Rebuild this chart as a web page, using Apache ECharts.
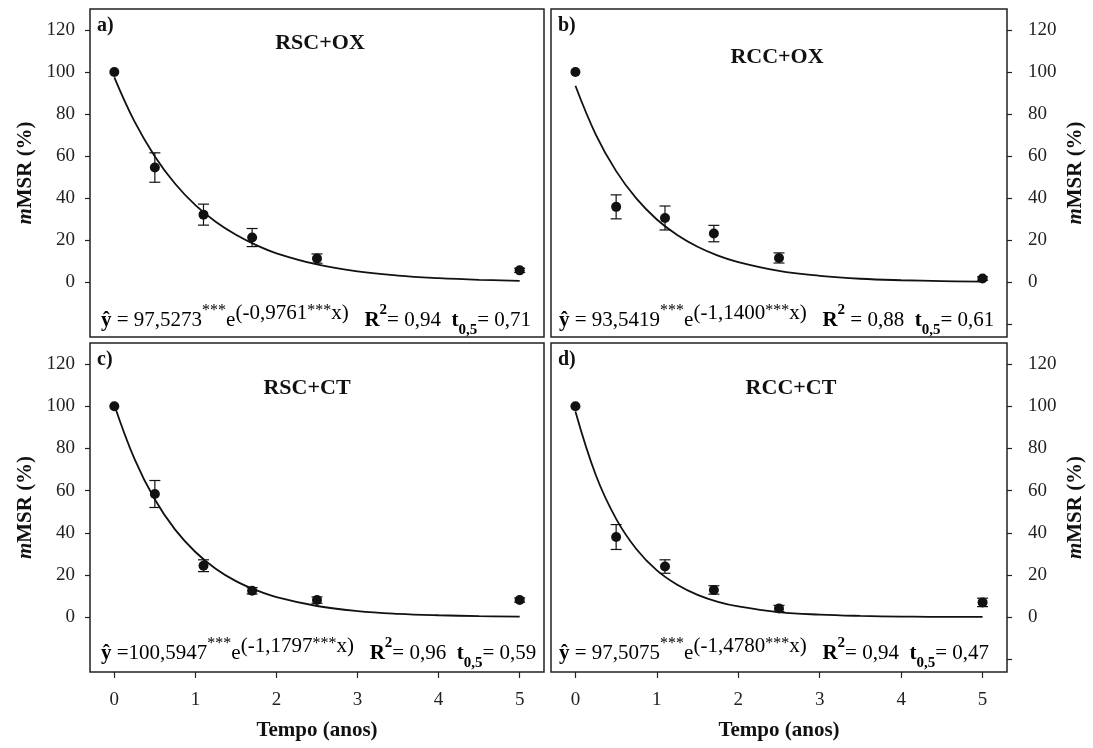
<!DOCTYPE html>
<html>
<head>
<meta charset="utf-8">
<title>mMSR</title>
<script src="https://cdn.jsdelivr.net/npm/echarts@6/dist/echarts.min.js"></script>
<style>
  html, body { margin: 0; padding: 0; background: #fff; }
  #chart { width: 1093px; height: 748px; }
</style>
</head>
<body>
<div id="chart"></div>
<script>
// tempo de coleta (anos)
const tempo = [0, 0.5, 1.1, 1.7, 2.5, 5];

// médias e erros
const mediaA = [100, 54.6, 32.2, 21.3, 11.3, 5.7];
const erroA = [0, 7.0, 5.0, 4.3, 2.2, 1.0];
const mediaB = [100, 35.9, 30.6, 23.2, 11.6, 1.8];
const erroB = [0, 5.7, 5.7, 3.9, 2.4, 0.8];
const mediaC = [100, 58.4, 24.4, 12.5, 8.1, 8.1];
const erroC = [0, 6.4, 2.8, 1.5, 1.5, 1.0];
const mediaD = [100, 38.0, 24.0, 12.9, 4.1, 7.0];
const erroD = [0, 5.9, 3.2, 2.0, 1.5, 2.0];

// curva ajustada
const tempoCurva = [0, 0.25, 0.5, 0.75, 1, 1.25, 1.5, 1.75, 2, 2.5, 3, 3.5, 4, 4.5, 5];
const curvaA = [97.5, 76.4, 59.9, 46.9, 36.7, 28.8, 22.6, 17.7, 13.8, 8.5, 5.2, 3.2, 2.0, 1.2, 0.7];
const curvaB = [93.5, 70.3, 52.9, 39.8, 29.9, 22.5, 16.9, 12.7, 9.6, 5.4, 3.1, 1.7, 1.0, 0.6, 0.3];
const curvaC = [100.6, 74.9, 55.8, 41.5, 30.9, 23.0, 17.1, 12.8, 9.5, 5.3, 2.9, 1.6, 0.9, 0.5, 0.3];
const curvaD = [97.5, 67.4, 46.6, 32.2, 22.2, 15.4, 10.6, 7.3, 5.1, 2.4, 1.2, 0.6, 0.3, 0.1, 0.1];

// rótulos dos eixos
const ticksX = [0, 1, 2, 3, 4, 5];
const ticksY = [0, 20, 40, 60, 80, 100, 120];
const ticksYDir = [-20, 0, 20, 40, 60, 80, 100, 120];

const fonte = "'Liberation Serif', 'Times New Roman', serif";
const preto = '#111';

const paineis = [
  { letra: 'a)', titulo: 'RSC+OX', media: mediaA, erro: erroA, curva: curvaA,
    eq: ['ŷ', ' = 97,5273', '-0,9761', '= 0,94  ', '= 0,71'] },
  { letra: 'b)', titulo: 'RCC+OX', media: mediaB, erro: erroB, curva: curvaB,
    eq: ['ŷ', ' = 93,5419', '-1,1400', ' = 0,88  ', '= 0,61'] },
  { letra: 'c)', titulo: 'RSC+CT', media: mediaC, erro: erroC, curva: curvaC,
    eq: ['ŷ', ' =100,5947', '-1,1797', '= 0,96  ', '= 0,59'] },
  { letra: 'd)', titulo: 'RCC+CT', media: mediaD, erro: erroD, curva: curvaD,
    eq: ['ŷ', ' = 97,5075', '-1,4780', '= 0,94  ', '= 0,47'] }
];

// posição de cada quadro (px)
const grades = [
  { left: 90, top: 9, width: 454, height: 328 },
  { left: 551, top: 9, width: 456, height: 328 },
  { left: 90, top: 343, width: 454, height: 329 },
  { left: 551, top: 343, width: 456, height: 329 }
];
const posTitulo = [[320, 43], [777, 57], [307, 388], [791, 388]];
const posEq = [[101, 303], [559, 303], [101, 636], [559, 636]];

function barrasErro(params, api) {
  const x = api.value(0), y = api.value(1), e = api.value(2);
  if (!e) return null;
  const a = api.coord([x, y + e]);
  const b = api.coord([x, y - e]);
  const w = 5.5;
  const st = { stroke: preto, lineWidth: 1.2 };
  return {
    type: 'group',
    children: [
      { type: 'line', shape: { x1: a[0], y1: a[1], x2: b[0], y2: b[1] }, style: st },
      { type: 'line', shape: { x1: a[0] - w, y1: a[1], x2: a[0] + w, y2: a[1] }, style: st },
      { type: 'line', shape: { x1: b[0] - w, y1: b[1], x2: b[0] + w, y2: b[1] }, style: st }
    ]
  };
}

const richEq = {
  n: { fontFamily: fonte, fontSize: 21, lineHeight: 35, verticalAlign: 'middle', color: preto },
  b: { fontFamily: fonte, fontSize: 21, lineHeight: 35, verticalAlign: 'middle', fontWeight: 'bold', color: preto },
  s: { fontFamily: fonte, fontSize: 16, lineHeight: 21, verticalAlign: 'top', color: preto },
  e: { fontFamily: fonte, fontSize: 21, lineHeight: 28, verticalAlign: 'top', color: preto },
  bs: { fontFamily: fonte, fontSize: 15, lineHeight: 25, verticalAlign: 'top', fontWeight: 'bold', color: preto },
  bi: { fontFamily: fonte, fontSize: 15, lineHeight: 17, verticalAlign: 'bottom', fontWeight: 'bold', color: preto }
};

const grid = [], xAxis = [], yAxis = [], series = [], graphic = [];

paineis.forEach(function (p, i) {
  const direita = i % 2 === 1;
  const baixo = i >= 2;
  grid.push(Object.assign({ show: true, borderColor: '#222', borderWidth: 1.5, backgroundColor: 'transparent' }, grades[i]));

  xAxis.push({
    type: 'value', gridIndex: i, min: -0.3, max: 5.3, position: 'bottom',
    name: baixo ? 'Tempo (anos)' : '', nameLocation: 'middle', nameGap: 48,
    nameTextStyle: { fontFamily: fonte, fontSize: 21, fontWeight: 'bold', color: preto },
    axisLine: { show: false, onZero: false },
    axisTick: { show: baixo, length: 6, customValues: ticksX, lineStyle: { color: '#222', width: 1.2 } },
    axisLabel: { show: baixo, customValues: ticksX, margin: 19, fontFamily: fonte, fontSize: 19, color: '#222' },
    splitLine: { show: false }
  });

  yAxis.push({
    type: 'value', gridIndex: i, min: -26, max: 130, position: direita ? 'right' : 'left',
    name: '{i|m}MSR (%)', nameLocation: 'middle', nameRotate: 90, nameGap: direita ? 58 : 54,
    nameTextStyle: {
      fontFamily: fonte, fontSize: 21, fontWeight: 'bold', color: preto,
      rich: { i: { fontFamily: fonte, fontSize: 21, fontWeight: 'bold', fontStyle: 'italic', color: preto } }
    },
    axisLine: { show: false, onZero: false },
    axisTick: { show: true, length: 5, customValues: direita ? ticksYDir : ticksY, lineStyle: { color: '#222', width: 1.2 } },
    axisLabel: { customValues: ticksY, margin: direita ? 21 : 15, fontFamily: fonte, fontSize: 19, color: '#222' },
    splitLine: { show: false }
  });

  series.push({
    type: 'line', xAxisIndex: i, yAxisIndex: i, smooth: 0.4, symbol: 'none', silent: true,
    lineStyle: { color: preto, width: 1.8 },
    data: tempoCurva.map(function (t, k) { return [t, p.curva[k]]; }),
    z: 2
  });
  series.push({
    type: 'custom', xAxisIndex: i, yAxisIndex: i, renderItem: barrasErro,
    encode: { x: 0, y: 1 },
    data: tempo.map(function (t, k) { return [t, p.media[k], p.erro[k]]; }),
    z: 3
  });
  series.push({
    type: 'scatter', xAxisIndex: i, yAxisIndex: i, symbolSize: 10,
    itemStyle: { color: preto, opacity: 1 },
    data: tempo.map(function (t, k) { return [t, p.media[k]]; }),
    z: 4
  });

  graphic.push({
    type: 'text', left: grades[i].left + 7, top: grades[i].top + 7,
    style: { text: p.letra, fontFamily: fonte, fontSize: 20, fontWeight: 'bold', fill: preto }
  });
  graphic.push({
    type: 'text', x: posTitulo[i][0], y: posTitulo[i][1],
    style: { text: p.titulo, fontFamily: fonte, fontSize: 22, fontWeight: 'bold', fill: preto,
      align: 'center', verticalAlign: 'middle' }
  });
  const eq = p.eq;
  graphic.push({
    type: 'text', left: posEq[i][0], top: posEq[i][1],
    style: {
      text: '{b|' + eq[0] + '}{n|' + eq[1] + '}{s|***}{n|e}{e|(' + eq[2] + '}{s|***}{e|x)}{n|   }' +
            '{b|R}{bs|2}{n|' + eq[3] + '}{b|t}{bi|0,5}{n|' + eq[4] + '}',
      rich: richEq
    }
  });
});

const chart = echarts.init(document.getElementById('chart'), null, { renderer: 'canvas' });
chart.setOption({
  animation: false,
  backgroundColor: '#fff',
  grid: grid,
  xAxis: xAxis,
  yAxis: yAxis,
  series: series,
  graphic: graphic
});
window.addEventListener('resize', function () { chart.resize(); });
</script>
</body>
</html>
